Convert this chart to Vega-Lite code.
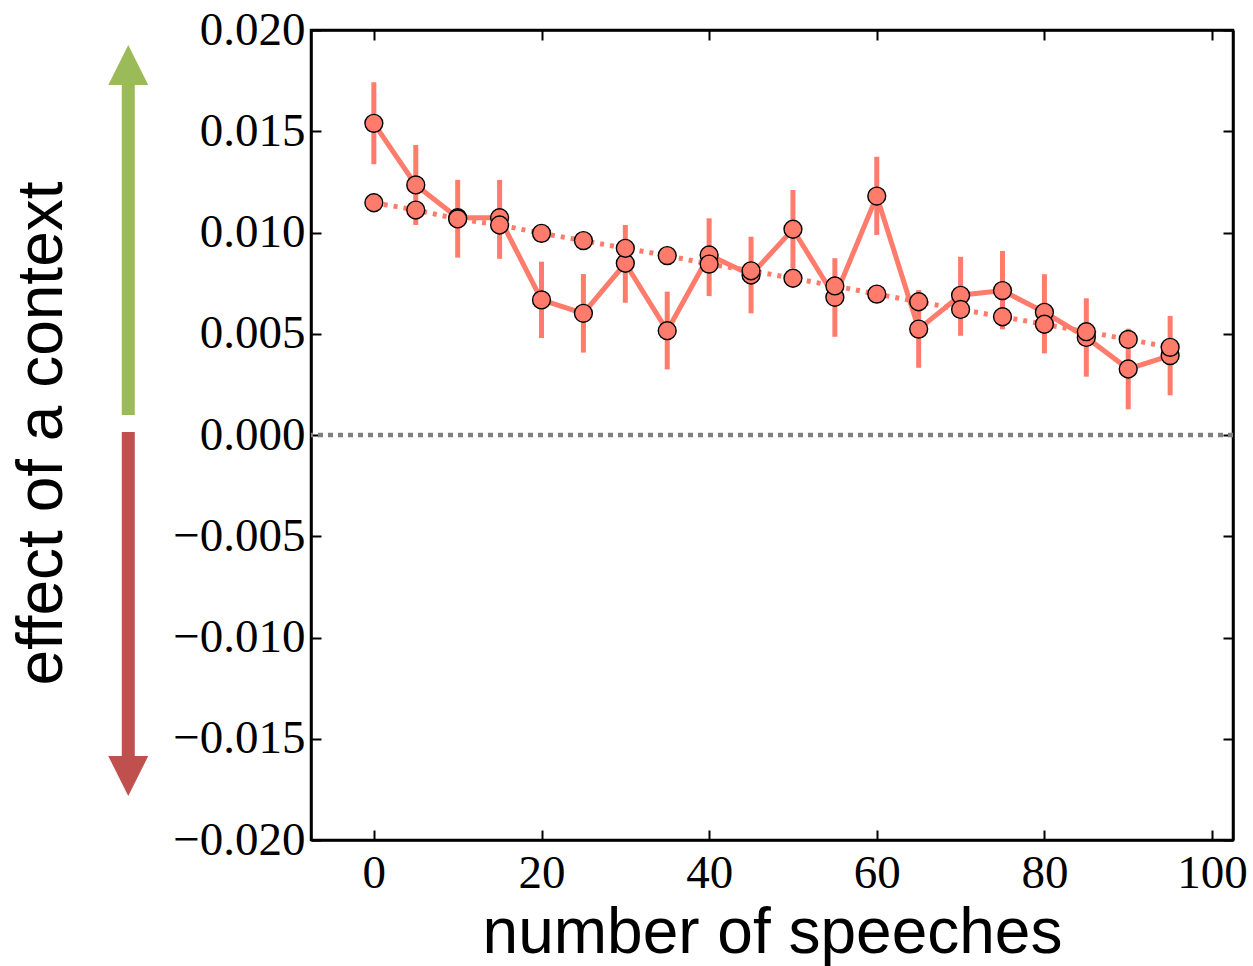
{
  "$schema": "https://vega.github.io/schema/vega-lite/v6.json",
  "width": 922,
  "height": 810,
  "autosize": {"type": "none"},
  "padding": {"left": 311, "top": 30, "right": 20, "bottom": 126},
  "background": "white",
  "config": {
    "view": {"stroke": "black", "strokeWidth": 2.5},
    "axis": {
      "domainColor": "black", "domainWidth": 2.5,
      "tickColor": "black", "tickWidth": 2, "tickSize": -10,
      "grid": false,
      "labelFont": "Liberation Serif", "labelFontSize": 47, "labelColor": "black",
      "titleFont": "Liberation Sans", "titleFontSize": 64, "titleFontWeight": "normal", "titleColor": "black"
    }
  },
  "datasets": {
    "series": [
      {"n": 0, "line": "solid", "effect": 0.01539, "lo": 0.01337, "hi": 0.01742},
      {"n": 5, "line": "solid", "effect": 0.01235, "lo": 0.01037, "hi": 0.01432},
      {"n": 10, "line": "solid", "effect": 0.01073, "lo": 0.00876, "hi": 0.0126},
      {"n": 15, "line": "solid", "effect": 0.01073, "lo": 0.0087, "hi": 0.0126},
      {"n": 20, "line": "solid", "effect": 0.00667, "lo": 0.00479, "hi": 0.00856},
      {"n": 25, "line": "solid", "effect": 0.00601, "lo": 0.00407, "hi": 0.00795},
      {"n": 30, "line": "solid", "effect": 0.00848, "lo": 0.00653, "hi": 0.01037},
      {"n": 35, "line": "solid", "effect": 0.00515, "lo": 0.00324, "hi": 0.00708},
      {"n": 40, "line": "solid", "effect": 0.00889, "lo": 0.00686, "hi": 0.0107},
      {"n": 45, "line": "solid", "effect": 0.0079, "lo": 0.00601, "hi": 0.00979},
      {"n": 50, "line": "solid", "effect": 0.01016, "lo": 0.00823, "hi": 0.0121},
      {"n": 55, "line": "solid", "effect": 0.0068, "lo": 0.00485, "hi": 0.00873},
      {"n": 60, "line": "solid", "effect": 0.0118, "lo": 0.00988, "hi": 0.01374},
      {"n": 65, "line": "solid", "effect": 0.00523, "lo": 0.00332, "hi": 0.00716},
      {"n": 70, "line": "solid", "effect": 0.0069, "lo": 0.0049, "hi": 0.0088},
      {"n": 75, "line": "solid", "effect": 0.00713, "lo": 0.00522, "hi": 0.00909},
      {"n": 80, "line": "solid", "effect": 0.00606, "lo": 0.00403, "hi": 0.00794},
      {"n": 85, "line": "solid", "effect": 0.00482, "lo": 0.00288, "hi": 0.00675},
      {"n": 90, "line": "solid", "effect": 0.00326, "lo": 0.00127, "hi": 0.00525},
      {"n": 95, "line": "solid", "effect": 0.00392, "lo": 0.00196, "hi": 0.00588},
      {"n": 0, "line": "dotted", "effect": 0.01147},
      {"n": 5, "line": "dotted", "effect": 0.01111},
      {"n": 10, "line": "dotted", "effect": 0.01067},
      {"n": 15, "line": "dotted", "effect": 0.01037},
      {"n": 20, "line": "dotted", "effect": 0.00996},
      {"n": 25, "line": "dotted", "effect": 0.0096},
      {"n": 30, "line": "dotted", "effect": 0.00922},
      {"n": 35, "line": "dotted", "effect": 0.00886},
      {"n": 40, "line": "dotted", "effect": 0.00844},
      {"n": 45, "line": "dotted", "effect": 0.00811},
      {"n": 50, "line": "dotted", "effect": 0.00774},
      {"n": 55, "line": "dotted", "effect": 0.00736},
      {"n": 60, "line": "dotted", "effect": 0.00696},
      {"n": 65, "line": "dotted", "effect": 0.00658},
      {"n": 70, "line": "dotted", "effect": 0.0062},
      {"n": 75, "line": "dotted", "effect": 0.00584},
      {"n": 80, "line": "dotted", "effect": 0.00547},
      {"n": 85, "line": "dotted", "effect": 0.0051},
      {"n": 90, "line": "dotted", "effect": 0.00472},
      {"n": 95, "line": "dotted", "effect": 0.00433}
    ],
    "arrows": [
      {"n": -29.3, "dir": "up", "from": 0.00099, "to": 0.01728, "head": 0.01827},
      {"n": -29.3, "dir": "down", "from": 0.00015, "to": -0.01585, "head": -0.01684}
    ]
  },
  "resolve": {"axis": {"x": "independent", "y": "independent"}},
  "layer": [
    {
      "data": {"values": [{"level": 0}]},
      "mark": {"type": "rule", "color": "#808080", "strokeWidth": 4.5, "strokeDash": [5, 5]},
      "encoding": {
        "y": {"field": "level", "type": "quantitative", "axis": null,
              "scale": {"domain": [-0.02, 0.02], "nice": false, "zero": false}}
      }
    },
    {
      "data": {"name": "arrows"},
      "mark": {"type": "rule", "strokeWidth": 13, "clip": false},
      "encoding": {
        "x": {"field": "n", "type": "quantitative", "axis": null,
              "scale": {"domain": [-7.5, 102.5], "nice": false, "zero": false}},
        "y": {"field": "from", "type": "quantitative", "axis": null,
              "scale": {"domain": [-0.02, 0.02], "nice": false, "zero": false}},
        "y2": {"field": "to"},
        "color": {"field": "dir", "type": "nominal", "legend": null,
                  "scale": {"domain": ["up", "down"], "range": ["#9BBB59", "#C0504D"]}}
      }
    },
    {
      "data": {"name": "arrows"},
      "mark": {"type": "point", "filled": true, "opacity": 1, "size": 1600, "clip": false},
      "encoding": {
        "x": {"field": "n", "type": "quantitative", "axis": null,
              "scale": {"domain": [-7.5, 102.5], "nice": false, "zero": false}},
        "y": {"field": "head", "type": "quantitative", "axis": null,
              "scale": {"domain": [-0.02, 0.02], "nice": false, "zero": false}},
        "color": {"field": "dir", "type": "nominal", "legend": null,
                  "scale": {"domain": ["up", "down"], "range": ["#9BBB59", "#C0504D"]}},
        "shape": {"field": "dir", "type": "nominal", "legend": null,
                  "scale": {"domain": ["up", "down"], "range": ["M0,-1L1,1L-1,1Z", "M-1,-1L1,-1L0,1Z"]}}
      }
    },
    {
      "data": {"name": "series"},
      "transform": [{"filter": "datum.line === 'solid'"}],
      "mark": {"type": "line", "color": "#FF7B6B", "strokeWidth": 5},
      "encoding": {
        "x": {"field": "n", "type": "quantitative",
              "scale": {"domain": [-7.5, 102.5], "nice": false, "zero": false},
              "axis": {"orient": "bottom", "values": [0, 20, 40, 60, 80, 100], "title": "number of speeches",
                       "labelPadding": 20, "titleY": 112, "titleBaseline": "alphabetic"}},
        "y": {"field": "effect", "type": "quantitative",
              "scale": {"domain": [-0.02, 0.02], "nice": false, "zero": false},
              "axis": {"orient": "left", "values": [-0.02, -0.015, -0.01, -0.005, 0, 0.005, 0.01, 0.015, 0.02],
                       "format": ".3f", "title": "effect of a context", "labelPadding": 16,
                       "titleX": -269, "titleY": 403, "titleAngle": 270, "titleBaseline": "middle", "titleAlign": "center"}}
      }
    },
    {
      "data": {"name": "series"},
      "transform": [{"filter": "datum.line === 'dotted'"}],
      "mark": {"type": "line", "color": "#FF7B6B", "strokeWidth": 5, "strokeDash": [4, 6]},
      "encoding": {
        "x": {"field": "n", "type": "quantitative", "axis": null,
              "scale": {"domain": [-7.5, 102.5], "nice": false, "zero": false}},
        "y": {"field": "effect", "type": "quantitative", "axis": null,
              "scale": {"domain": [-0.02, 0.02], "nice": false, "zero": false}}
      }
    },
    {
      "data": {"name": "series"},
      "transform": [{"filter": "datum.line === 'solid'"}],
      "mark": {"type": "rule", "color": "#FF7B6B", "strokeWidth": 5},
      "encoding": {
        "x": {"field": "n", "type": "quantitative", "axis": null,
              "scale": {"domain": [-7.5, 102.5], "nice": false, "zero": false}},
        "y": {"field": "lo", "type": "quantitative", "axis": null,
              "scale": {"domain": [-0.02, 0.02], "nice": false, "zero": false}},
        "y2": {"field": "hi"}
      }
    },
    {
      "data": {"name": "series"},
      "mark": {"type": "point", "shape": "circle", "filled": true, "fill": "#FF7B6B", "opacity": 1,
               "stroke": "black", "strokeWidth": 1.4, "size": 320},
      "encoding": {
        "x": {"field": "n", "type": "quantitative",
              "scale": {"domain": [-7.5, 102.5], "nice": false, "zero": false},
              "axis": {"orient": "top", "values": [0, 20, 40, 60, 80, 100], "labels": false, "title": null}},
        "y": {"field": "effect", "type": "quantitative",
              "scale": {"domain": [-0.02, 0.02], "nice": false, "zero": false},
              "axis": {"orient": "right", "values": [-0.02, -0.015, -0.01, -0.005, 0, 0.005, 0.01, 0.015, 0.02],
                       "labels": false, "title": null}}
      }
    }
  ]
}
